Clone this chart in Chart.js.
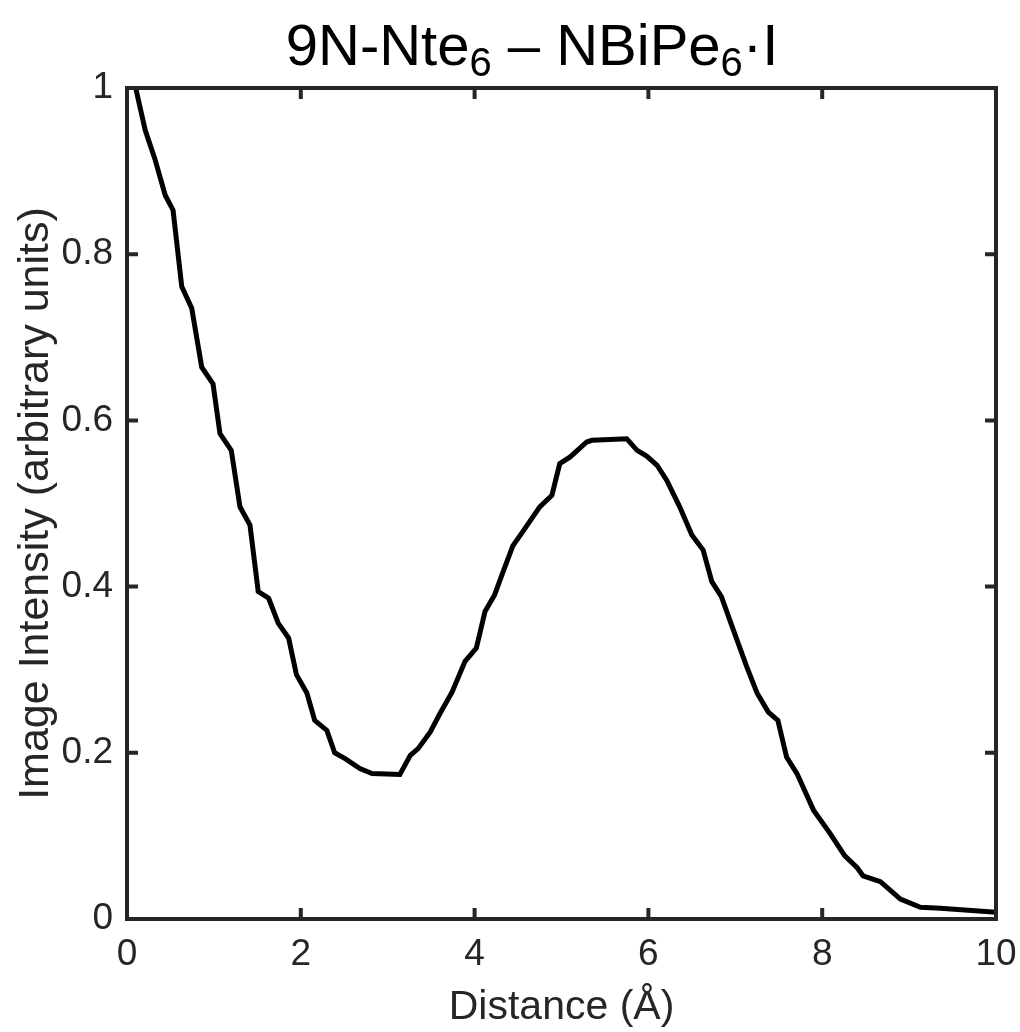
<!DOCTYPE html>
<html>
<head>
<meta charset="utf-8">
<script src="https://cdn.jsdelivr.net/npm/chart.js@4.4.1/dist/chart.umd.min.js"></script>
<style>
html,body{margin:0;padding:0;background:#fff;}
#wrap{width:1020px;height:1032px;position:relative;}
</style>
</head>
<body>
<div id="wrap"><canvas id="c" width="1020" height="1032"></canvas></div>
<script>
// ---- data ----
const distance = [0.1,0.21,0.32,0.44,0.53,0.63,0.745,0.86,0.99,1.07,1.20,1.30,1.415,1.51,1.63,1.74,1.86,1.95,2.07,2.16,2.30,2.39,2.51,2.68,2.82,3.14,3.26,3.35,3.49,3.60,3.74,3.89,4.02,4.12,4.23,4.35,4.44,4.58,4.75,4.89,4.98,5.10,5.29,5.35,5.75,5.87,5.98,6.10,6.21,6.36,6.50,6.63,6.73,6.84,6.97,7.13,7.25,7.38,7.49,7.59,7.71,7.90,8.09,8.26,8.40,8.47,8.67,8.90,9.13,9.36,10.0];
const intensity = [1.0,0.949,0.915,0.871,0.853,0.761,0.735,0.664,0.644,0.584,0.564,0.496,0.474,0.394,0.386,0.356,0.338,0.294,0.272,0.239,0.227,0.200,0.193,0.181,0.175,0.174,0.197,0.205,0.225,0.247,0.273,0.310,0.326,0.370,0.390,0.424,0.449,0.470,0.496,0.510,0.548,0.556,0.574,0.576,0.578,0.564,0.557,0.546,0.528,0.496,0.462,0.444,0.406,0.388,0.350,0.304,0.272,0.249,0.239,0.195,0.175,0.131,0.103,0.076,0.062,0.052,0.045,0.024,0.014,0.013,0.008];
const xTickValues = [0,2,4,6,8,10];
const xTickLabels = ['0','2','4','6','8','10'];
const yTickValues = [0,0.2,0.4,0.6,0.8,1];
const yTickLabels = ['0','0.2','0.4','0.6','0.8','1'];
const titleParts = [['9N-Nte',false],['6',true],[' \u2013 NBiPe',false],['6',true],['\u00B7I',false]];
const xTitle = 'Distance (\u00C5)';
const yTitle = 'Image Intensity (arbitrary units)';

const FONT = '"Liberation Sans", Arial, Helvetica, sans-serif';
const AXC = '#262626';

const boxPlugin = {
  id: 'boxTicks',
  afterDraw(chart) {
    const ctx = chart.ctx, a = chart.chartArea;
    const xs = chart.scales.x, ys = chart.scales.y;
    ctx.save();
    ctx.strokeStyle = AXC;
    ctx.lineWidth = 4;
    const tl = 11;
    ctx.beginPath();
    xTickValues.forEach(v => {
      const p = xs.getPixelForValue(v);
      ctx.moveTo(p, a.bottom); ctx.lineTo(p, a.bottom - tl);
      ctx.moveTo(p, a.top); ctx.lineTo(p, a.top + tl);
    });
    yTickValues.forEach(v => {
      const p = ys.getPixelForValue(v);
      ctx.moveTo(a.left, p); ctx.lineTo(a.left + tl, p);
      ctx.moveTo(a.right, p); ctx.lineTo(a.right - tl, p);
    });
    ctx.stroke();
    ctx.lineJoin = 'miter';
    ctx.strokeRect(a.left, a.top, a.right - a.left, a.bottom - a.top);
    // title with subscripts
    const big = 58, small = 40;
    let total = 0;
    titleParts.forEach(([t, sub]) => {
      ctx.font = (sub ? small : big) + 'px ' + FONT;
      total += ctx.measureText(t).width;
    });
    let x = 532 - total / 2;
    const base = 65;
    ctx.fillStyle = '#000';
    ctx.textBaseline = 'alphabetic';
    ctx.textAlign = 'left';
    titleParts.forEach(([t, sub]) => {
      ctx.font = (sub ? small : big) + 'px ' + FONT;
      ctx.fillText(t, x, sub ? base + 11 : base);
      x += ctx.measureText(t).width;
    });
    ctx.restore();
  }
};

new Chart(document.getElementById('c'), {
  type: 'scatter',
  data: {
    datasets: [{
      data: distance.map((d, i) => ({x: d, y: intensity[i]})),
      showLine: true,
      borderColor: '#000',
      borderWidth: 5,
      pointRadius: 0,
      tension: 0,
      fill: false
    }]
  },
  options: {
    responsive: false,
    animation: false,
    devicePixelRatio: 1,
    layout: {padding: {top: 88, right: 24, left: 10, bottom: 0}},
    plugins: {legend: {display: false}, tooltip: {enabled: false}, title: {display: false}},
    scales: {
      x: {
        type: 'linear', min: 0, max: 10,
        afterBuildTicks: s => { s.ticks = xTickValues.map(v => ({value: v})); },
        afterFit: s => { s.height = 113; s.paddingLeft = 0; s.paddingRight = 0; },
        grid: {display: false, drawTicks: false},
        border: {display: false},
        ticks: {
          color: '#262626', padding: 14,
          font: {family: FONT, size: 37},
          maxRotation: 0,
          callback: (v) => xTickLabels[xTickValues.indexOf(v)]
        },
        title: {display: true, text: xTitle, color: '#262626', font: {family: FONT, size: 41}, padding: {top: 0, bottom: 0}}
      },
      y: {
        type: 'linear', min: 0, max: 1,
        afterBuildTicks: s => { s.ticks = yTickValues.map(v => ({value: v})); },
        afterFit: s => { s.width = 117; s.paddingTop = 0; s.paddingBottom = 0; },
        grid: {display: false, drawTicks: false},
        border: {display: false},
        ticks: {
          color: '#262626', padding: 14,
          font: {family: FONT, size: 37},
          callback: (v) => yTickLabels[yTickValues.indexOf(v)]
        },
        title: {display: true, text: yTitle, color: '#262626', font: {family: FONT, size: 43}, padding: {top: 0, bottom: 0}}
      }
    }
  },
  plugins: [boxPlugin]
});
</script>
</body>
</html>
